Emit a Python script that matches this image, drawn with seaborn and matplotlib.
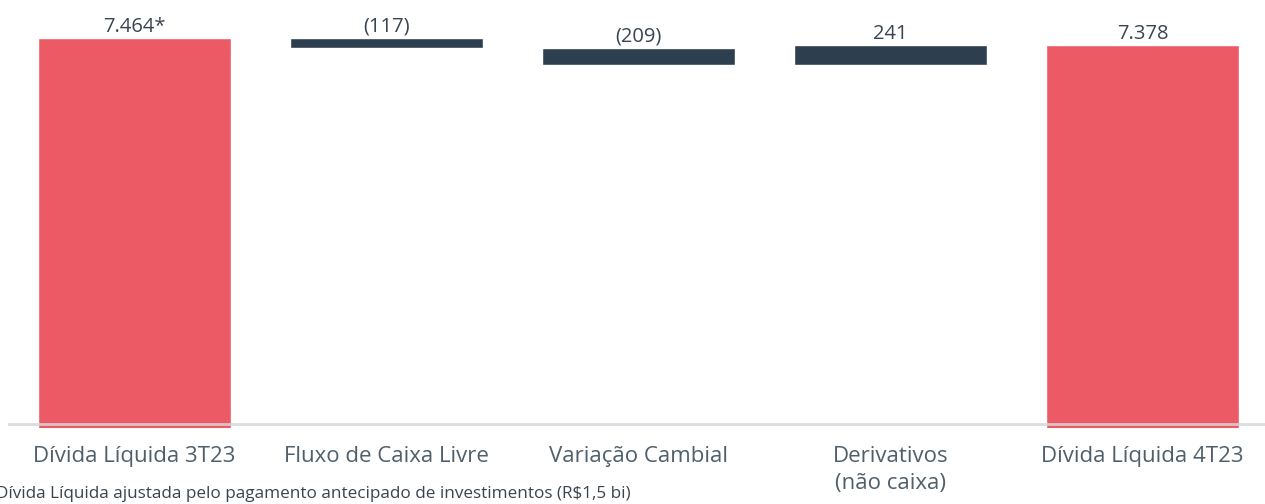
import matplotlib
matplotlib.use("Agg")
import matplotlib.pyplot as plt
import seaborn as sns

# Ponte da dívida líquida (R$ milhões)
categories = ["Dívida Líquida 3T23", "Fluxo de Caixa Livre", "Variação Cambial",
              "Derivativos\n(não caixa)", "Dívida Líquida 4T23"]
values = [7464, -117, -209, 241, 7378]
is_total = [True, False, False, False, True]
value_labels = ["7.464*", "(117)", "(209)", "241", "7.378"]
footnote = "Dívida Líquida ajustada pelo pagamento antecipado de investimentos (R$1,5 bi)"

RED = "#EC5A65"
NAVY = "#2D3E4E"
TEXT = "#4F5F6C"
LABEL = "#3A4450"

sns.set_theme(style="white")
plt.rcParams["font.family"] = ["Open Sans", "DejaVu Sans"]

fig = plt.figure(figsize=(12.65, 5.04), dpi=100)
ax = fig.add_axes([8 / 1265, 76 / 504, 1 - 8 / 1265, 428 / 504])

# waterfall: totals from the floor, deltas floating
running = 0
for cat, val, tot, lab in zip(categories, values, is_total, value_labels):
    if tot:
        low, high = 0, val
        running = val
        col = RED
    else:
        low, high = sorted([running, running + val])
        running += val
        col = NAVY
    sns.barplot(x=[cat], y=[high - low], bottom=low, order=categories,
                color=col, saturation=1, width=0.766, ax=ax, zorder=2)
    ax.annotate(lab, xy=(categories.index(cat), high), xytext=(0, 1),
                textcoords="offset points", ha="center", va="bottom",
                fontsize=14.5, color=LABEL)

ax.set_ylim(2673, 7931)
ax.set_xlim(-0.502, 4.486)
ax.axhline(2722, color="#D6D6D6", lw=2, alpha=0.85, zorder=3)

for s in ax.spines.values():
    s.set_visible(False)
ax.set_yticks([])
ax.set_xlabel("")
ax.set_ylabel("")
ax.tick_params(axis="x", length=0, pad=13, labelsize=16, labelcolor=TEXT)
for t in ax.get_xticklabels():
    t.set_linespacing(1.4)

fig.text(-0.003, 0.012, footnote, fontsize=12.3, color=LABEL, ha="left", va="baseline")

fig.savefig("out.png", dpi=100)
